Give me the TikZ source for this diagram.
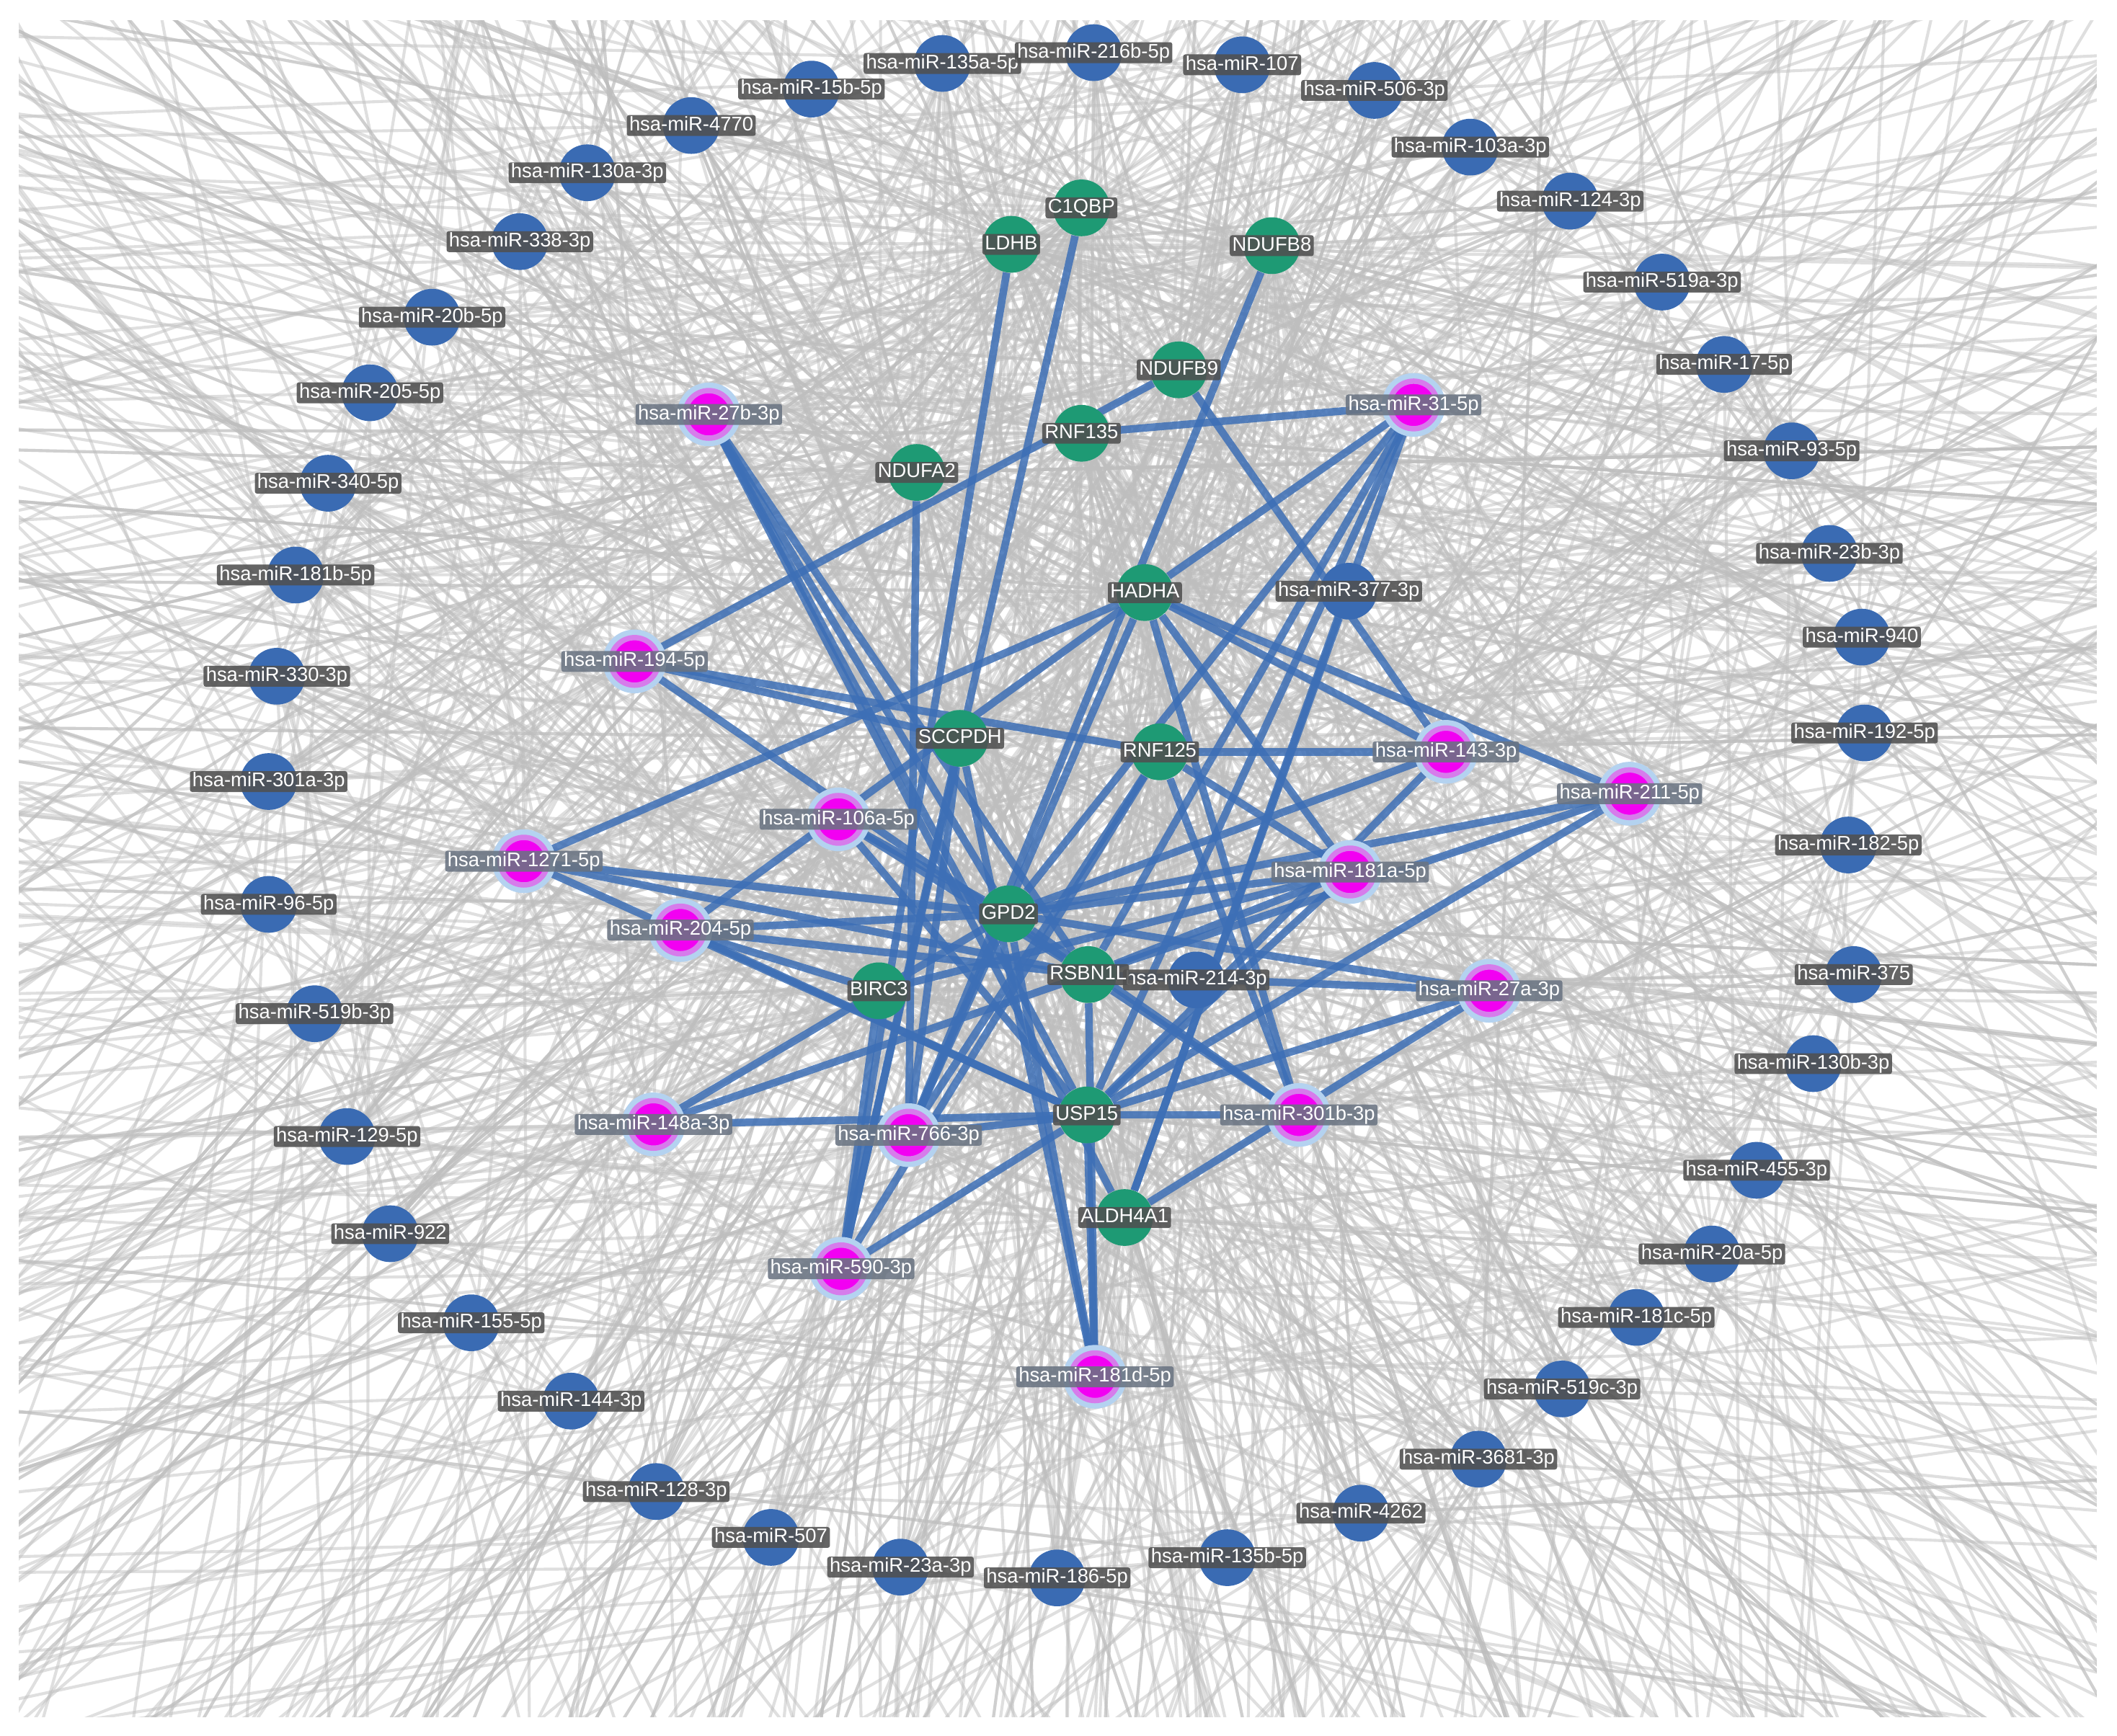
\documentclass[tikz,border=0pt]{standalone}
\usepackage{fontspec}
\setmainfont{Liberation Sans}
\definecolor{edgeblue}{HTML}{3D6FB6}
\definecolor{nodeblue}{HTML}{3A6BB3}
\definecolor{geneg}{HTML}{1E9A74}
\definecolor{magcore}{HTML}{F200F2}
\definecolor{magring}{HTML}{D67CEB}
\definecolor{halo}{HTML}{B4D2F0}
\definecolor{lbldark}{HTML}{505050}
\definecolor{lblmag}{HTML}{6A7482}
\definecolor{greyln}{HTML}{BEBEBE}
\pgfdeclarelayer{greylayer}
\pgfdeclarelayer{edgelayer}
\pgfsetlayers{greylayer,edgelayer,main}
\tikzset{
  bnode/.style={circle, fill=nodeblue, minimum size=1.05cm, inner sep=0pt},
  gnode/.style={circle, fill=geneg, minimum size=1.05cm, inner sep=0pt},
  mnode/.style={circle, fill=magcore, minimum size=0.88cm, inner sep=0pt,
    draw=magring, line width=0.1cm,
    preaction={draw=halo, line width=0.3cm}},
  lbl/.style={fill=lbldark, fill opacity=0.88, text opacity=1, text=white,
    inner xsep=1.3pt, inner ysep=0.7pt, rounded corners=1.2pt,
    text height=7.5pt, text depth=2.1pt, font=\fontsize{10.4}{11}\selectfont},
  lblm/.style={lbl, fill=lblmag},
  gline/.style={draw=greyln, line width=0.055cm, draw opacity=0.48},
  bedge/.style={draw=edgeblue, line width=0.14cm, draw opacity=0.85}
}
\def\outerlist{b135a/698/47/hsa-miR-135a-5p,b216b/810/39/hsa-miR-216b-5p,b107/920/48/hsa-miR-107,b506/1018/67/hsa-miR-506-3p,b103a/1089/109/hsa-miR-103a-3p,b124/1163/149/hsa-miR-124-3p,b519a/1231/209/hsa-miR-519a-3p,b17/1277/270/hsa-miR-17-5p,b93/1327/334/hsa-miR-93-5p,b23b/1355/410/hsa-miR-23b-3p,b940/1379/472/hsa-miR-940,b192/1381/543/hsa-miR-192-5p,b182/1369/626/hsa-miR-182-5p,b375/1373/722/hsa-miR-375,b130b/1343/788/hsa-miR-130b-3p,b455/1301/867/hsa-miR-455-3p,b20a/1268/929/hsa-miR-20a-5p,b181c/1212/976/hsa-miR-181c-5p,b519c/1157/1029/hsa-miR-519c-3p,b3681/1095/1081/hsa-miR-3681-3p,b4262/1008/1121/hsa-miR-4262,b135b/909/1154/hsa-miR-135b-5p,b186/783/1169/hsa-miR-186-5p,b23a/667/1161/hsa-miR-23a-3p,b507/571/1139/hsa-miR-507,b128/486/1105/hsa-miR-128-3p,b144/423/1038/hsa-miR-144-3p,b155/349/980/hsa-miR-155-5p,b922/289/914/hsa-miR-922,b129/257/842/hsa-miR-129-5p,b519b/233/751/hsa-miR-519b-3p,b96/199/670/hsa-miR-96-5p,b301a/199/579/hsa-miR-301a-3p,b330/205/501/hsa-miR-330-3p,b181b/219/426/hsa-miR-181b-5p,b340/243/358/hsa-miR-340-5p,b205/274/291/hsa-miR-205-5p,b20b/320/235/hsa-miR-20b-5p,b338/385/179/hsa-miR-338-3p,b130a/435/128/hsa-miR-130a-3p,b4770/512/93/hsa-miR-4770,b15b/601/66/hsa-miR-15b-5p,b377/999/438/hsa-miR-377-3p,b214/886/726/hsa-miR-214-3p}
\def\maglist{m27b/525/307/hsa-miR-27b-3p,m31/1047/300/hsa-miR-31-5p,m194/470/490/hsa-miR-194-5p,m143/1071/557/hsa-miR-143-3p,m211/1207/588/hsa-miR-211-5p,m106a/621/607/hsa-miR-106a-5p,m1271/388/638/hsa-miR-1271-5p,m181a/1000/646/hsa-miR-181a-5p,m204/504/689/hsa-miR-204-5p,m27a/1103/734/hsa-miR-27a-3p,m148a/484/833/hsa-miR-148a-3p,m766/673/841/hsa-miR-766-3p,m301b/962/826/hsa-miR-301b-3p,m590/623/940/hsa-miR-590-3p,m181d/811/1020/hsa-miR-181d-5p}
\def\genelist{C1QBP/801/154,LDHB/749/181,NDUFB8/942/182,NDUFB9/873/274,RNF135/801/321,NDUFA2/679/350,HADHA/848/439,SCCPDH/711/547,RNF125/859/557,GPD2/747/677,RSBN1L/806/722,BIRC3/651/734,USP15/805/826,ALDH4A1/833/902}
\begin{document}
\begin{tikzpicture}[x=0.025cm,y=-0.025cm]
\useasboundingbox (0,0) rectangle (1568,1286);
% ---- nodes ----
\foreach \n/\x/\y/\t [count=\i] in \outerlist {\node[bnode, alias=ob\i] (\n) at (\x,\y) {};}
\foreach \n/\x/\y/\t [count=\i] in \maglist {\node[mnode, alias=mm\i] (\n) at (\x,\y) {};}
\foreach \n/\x/\y [count=\i] in \genelist {\node[gnode, alias=gg\i] (\n) at (\x,\y) {};}
% ---- off-frame anchors ----
\foreach \i in {1,...,72} {\coordinate (o\i) at ({784+1500*cos(5*\i)},{640+1250*sin(5*\i)});}
% ---- grey background network ----
\begin{pgfonlayer}{greylayer}
\fill[white] (0,0) rectangle (1568,1286);
\begin{scope}
\clip (14,15) rectangle (1553,1272);
\pgfmathsetseed{20231}
\foreach \i in {1,...,44} {
  \foreach \j in {1,...,10} {
    \pgfmathrandominteger{\k}{1}{72}
    \draw[gline] (ob\i.center) -- (o\k);
  }
  \foreach \j in {1,...,8} {
    \pgfmathrandominteger{\k}{1}{14}
    \draw[gline] (ob\i.center) -- (gg\k.center);
  }
}
\foreach \i in {1,...,15} {
  \foreach \j in {1,...,14} {
    \pgfmathrandominteger{\k}{1}{72}
    \draw[gline] (mm\i.center) -- (o\k);
  }
  \foreach \j in {1,...,4} {
    \pgfmathrandominteger{\k}{1}{44}
    \draw[gline] (mm\i.center) -- (ob\k.center);
  }
  \foreach \j in {1,...,6} {
    \pgfmathrandominteger{\k}{1}{14}
    \draw[gline] (mm\i.center) -- (gg\k.center);
  }
}
\foreach \i in {1,...,14} {
  \foreach \j in {1,...,46} {
    \pgfmathrandominteger{\k}{1}{72}
    \draw[gline] (gg\i.center) -- (o\k);
  }
}
\end{scope}
\end{pgfonlayer}
% ---- blue edges ----
\begin{pgfonlayer}{edgelayer}
\foreach \a/\b in {m27b/GPD2,m27b/USP15,m27b/RSBN1L,m27b/ALDH4A1,
 m31/RNF135,m31/HADHA,m31/GPD2,m31/RSBN1L,m31/USP15,m31/ALDH4A1,
 m194/NDUFB9,m194/SCCPDH,m194/RNF125,m194/RSBN1L,
 m143/NDUFB9,m143/RNF125,m143/HADHA,m143/GPD2,m143/USP15,
 m211/HADHA,m211/GPD2,m211/RSBN1L,m211/USP15,
 m106a/GPD2,m106a/USP15,m106a/RSBN1L,
 m1271/HADHA,m1271/GPD2,m1271/RSBN1L,m1271/USP15,
 m181a/RNF125,m181a/HADHA,m181a/GPD2,m181a/RSBN1L,m181a/USP15,m181a/BIRC3,
 m204/HADHA,m204/GPD2,m204/BIRC3,m204/USP15,m204/RSBN1L,
 m27a/ALDH4A1,m27a/USP15,m27a/RSBN1L,m27a/GPD2,
 m148a/GPD2,m148a/RSBN1L,m148a/USP15,
 m766/NDUFA2,m766/NDUFB8,m766/SCCPDH,m766/RNF125,m766/HADHA,m766/USP15,m766/GPD2,
 m301b/RNF125,m301b/HADHA,m301b/GPD2,m301b/RSBN1L,m301b/USP15,
 m590/LDHB,m590/C1QBP,m590/SCCPDH,m590/BIRC3,m590/RNF125,m590/USP15,
 m181d/USP15,m181d/GPD2,m181d/RSBN1L,m181d/SCCPDH,
 b377/ALDH4A1}
 {\draw[bedge] (\a) -- (\b);}
\end{pgfonlayer}
% ---- labels ----
\foreach \n/\x/\y/\t in \outerlist {\node[lbl] (\n-t) at (\n) {\t};}
\foreach \n/\x/\y/\t in \maglist {\node[lblm] (\n-t) at (\n) {\t};}
\foreach \n/\x/\y in \genelist {\node[lbl] (\n-t) at (\n) {\n};}
\end{tikzpicture}
\end{document}
